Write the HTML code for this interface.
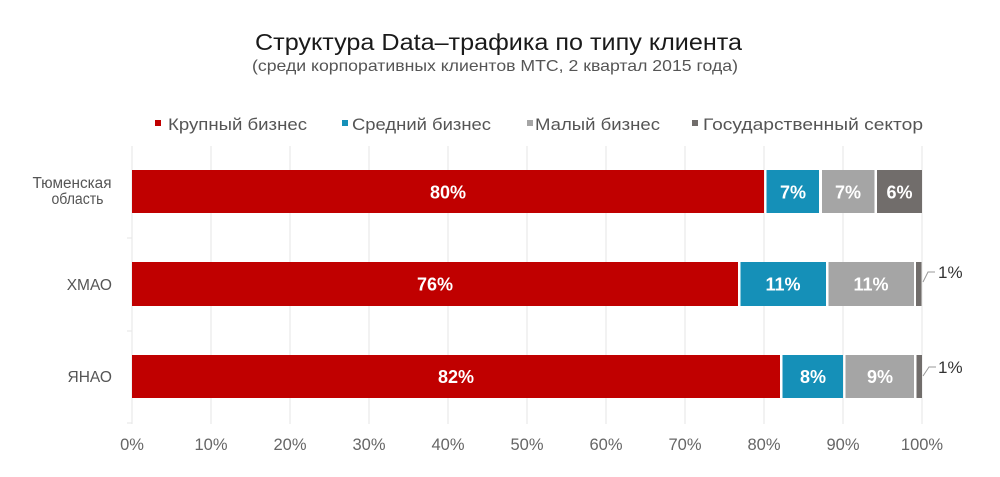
<!DOCTYPE html>
<html><head><meta charset="utf-8"><style>
html,body{margin:0;padding:0;background:#fff;}
svg{display:block;font-family:"Liberation Sans","DejaVu Sans",sans-serif;}
</style></head><body>
<svg width="1000" height="477" viewBox="0 0 1000 477" xmlns="http://www.w3.org/2000/svg">
<rect width="1000" height="477" fill="#fff"/>
<text x="255" y="50" font-size="23" fill="#1a1a1a" textLength="487" lengthAdjust="spacingAndGlyphs">Структура Data–трафика по типу клиента</text>
<text x="252" y="71" font-size="16" fill="#555" textLength="486" lengthAdjust="spacingAndGlyphs">(среди корпоративных клиентов МТС, 2 квартал 2015 года)</text>

<rect x="155" y="120" width="6" height="6" fill="#c00000"/>
<text x="168" y="130" font-size="17" fill="#555" textLength="139" lengthAdjust="spacingAndGlyphs">Крупный бизнес</text>
<rect x="342" y="120" width="6" height="6" fill="#1590b8"/>
<text x="352" y="130" font-size="17" fill="#555" textLength="139" lengthAdjust="spacingAndGlyphs">Средний бизнес</text>
<rect x="527" y="120" width="6" height="6" fill="#a5a5a5"/>
<text x="535" y="130" font-size="17" fill="#555" textLength="125" lengthAdjust="spacingAndGlyphs">Малый бизнес</text>
<rect x="692" y="120" width="6" height="6" fill="#716d6b"/>
<text x="703" y="130" font-size="17" fill="#555" textLength="220" lengthAdjust="spacingAndGlyphs">Государственный сектор</text>

<g stroke="#e6e6e6" stroke-width="1">
<line x1="132" y1="146" x2="132" y2="424"/>
<line x1="211" y1="146" x2="211" y2="424"/>
<line x1="290" y1="146" x2="290" y2="424"/>
<line x1="369" y1="146" x2="369" y2="424"/>
<line x1="448" y1="146" x2="448" y2="424"/>
<line x1="527" y1="146" x2="527" y2="424"/>
<line x1="606" y1="146" x2="606" y2="424"/>
<line x1="685" y1="146" x2="685" y2="424"/>
<line x1="764" y1="146" x2="764" y2="424"/>
<line x1="843" y1="146" x2="843" y2="424"/>
<line x1="922" y1="146" x2="922" y2="424"/>
<line x1="127" y1="238" x2="132" y2="238"/>
<line x1="127" y1="331" x2="132" y2="331"/>
<line x1="127" y1="423" x2="132" y2="423"/>
</g>

<!-- Row 1 -->
<rect x="132" y="170" width="632" height="43" fill="#c00000"/>
<rect x="766.5" y="170" width="52.5" height="43" fill="#1590b8"/>
<rect x="822" y="170" width="52.5" height="43" fill="#a5a5a5"/>
<rect x="877" y="170" width="45" height="43" fill="#716d6b"/>
<!-- Row 2 -->
<rect x="132" y="262" width="606" height="44" fill="#c00000"/>
<rect x="740.5" y="262" width="85.5" height="44" fill="#1590b8"/>
<rect x="828.5" y="262" width="85.5" height="44" fill="#a5a5a5"/>
<rect x="916" y="262" width="5.5" height="44" fill="#716d6b"/>
<!-- Row 3 -->
<rect x="132" y="355" width="648" height="43" fill="#c00000"/>
<rect x="782.5" y="355" width="60.5" height="43" fill="#1590b8"/>
<rect x="845.5" y="355" width="68.5" height="43" fill="#a5a5a5"/>
<rect x="916.5" y="355" width="5.5" height="43" fill="#716d6b"/>

<g font-size="18" font-weight="bold" fill="#fff" text-anchor="middle">
<text x="448" y="198.5">80%</text>
<text x="793" y="198.5">7%</text>
<text x="848" y="198.5">7%</text>
<text x="899.5" y="198.5">6%</text>
<text x="435" y="290.5">76%</text>
<text x="783" y="290.5">11%</text>
<text x="871" y="290.5">11%</text>
<text x="456" y="383">82%</text>
<text x="813" y="383">8%</text>
<text x="880" y="383">9%</text>
</g>

<g fill="none" stroke="#999" stroke-width="1">
<polyline points="923,282 928,272 935,272"/>
<polyline points="923,376 929,367 936,367"/>
</g>
<text x="938" y="278" font-size="17" fill="#333">1%</text>
<text x="938" y="373" font-size="17" fill="#333">1%</text>

<g font-size="15.5" fill="#555" text-anchor="middle">
<text x="72" y="188" textLength="79" lengthAdjust="spacingAndGlyphs">Тюменская</text>
<text x="77.5" y="204" textLength="52" lengthAdjust="spacingAndGlyphs">область</text>
</g>
<g font-size="15.5" fill="#555" text-anchor="end">
<text x="112" y="290">ХМАО</text>
<text x="112" y="382">ЯНАО</text>
</g>

<g font-size="16.5" fill="#666" text-anchor="middle">
<text x="132" y="450">0%</text>
<text x="211" y="450">10%</text>
<text x="290" y="450">20%</text>
<text x="369" y="450">30%</text>
<text x="448" y="450">40%</text>
<text x="527" y="450">50%</text>
<text x="606" y="450">60%</text>
<text x="685" y="450">70%</text>
<text x="764" y="450">80%</text>
<text x="843" y="450">90%</text>
<text x="922" y="450">100%</text>
</g>
</svg>
</body></html>
